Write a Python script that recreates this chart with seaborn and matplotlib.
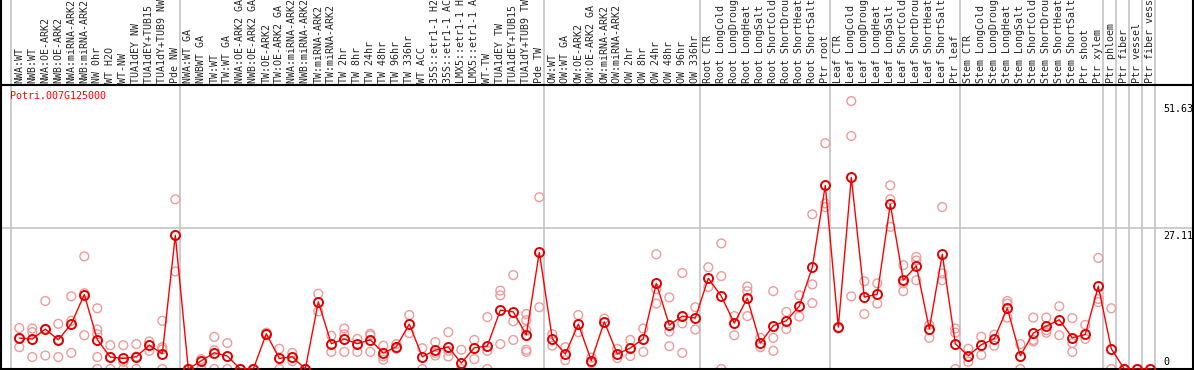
"""Expression profile of Potri.007G125000 across poplar samples."""

import matplotlib

matplotlib.use("Agg")

import matplotlib.pyplot as plt
import matplotlib.transforms as mtransforms
import numpy as np
import pandas as pd
import seaborn as sns

GENE = "Potri.007G125000"

SAMPLES = [
    # NW group
    "NWA:WT", "NWB:WT", "NWA:OE-ARK2", "NWB:OE-ARK2", "NWA:miRNA-ARK2",
    "NWB:miRNA-ARK2", "NW 0hr", "WT H2O", "WT-NW", "TUA1dEY NW",
    "TUA1dEY+TUB15 NW", "TUA1dY+TUB9 NW", "Pde NW",
    # TW group
    "NWA:WT GA", "NWBWT GA", "TW:WT", "TW:WT GA", "NWA:OE-ARK2 GA",
    "NWB:OE-ARK2 GA", "TW:OE-ARK2", "TW:OE-ARK2 GA", "NWA:miRNA-ARK2 GA",
    "NWB:miRNA-ARK2 GA", "TW:miRNA-ARK2", "TW:miRNA-ARK2 GA", "TW 2hr",
    "TW 8hr", "TW 24hr", "TW 48hr", "TW 96hr", "TW 336hr", "WT ACC",
    "35S::etr1-1 H2O", "35S::etr1-1 ACC", "LMX5::etr1-1 H2O",
    "LMX5::etr1-1 ACC", "WT-TW", "TUA1dEY TW", "TUA1dEY+TUB15 TW",
    "TUA1dY+TUB9 TW", "Pde TW",
    # OW group
    "OW:WT", "OW:WT GA", "OW:OE-ARK2", "OW:OE-ARK2 GA", "OW:miRNA-ARK2",
    "OW:miRNA-ARK2 GA", "OW 2hr", "OW 8hr", "OW 24hr", "OW 48hr",
    "OW 96hr", "OW 336hr",
    # Root
    "Root CTR", "Root LongCold", "Root LongDrought", "Root LongHeat",
    "Root LongSalt", "Root ShortCold", "Root ShortDrought", "Root ShortHeat",
    "Root ShortSalt", "Ptr root",
    # Leaf
    "Leaf CTR", "Leaf LongCold", "Leaf LongDrought", "Leaf LongHeat",
    "Leaf LongSalt", "Leaf ShortCold", "Leaf ShortDrought", "Leaf ShortHeat",
    "Leaf ShortSalt", "Ptr leaf",
    # Stem
    "Stem CTR", "Stem LongCold", "Stem LongDrought", "Stem LongHeat",
    "Stem LongSalt", "Stem ShortCold", "Stem ShortDrought", "Stem ShortHeat",
    "Stem ShortSalt", "Ptr shoot", "Ptr xylem",
    # wood tissues
    "Ptr phloem", "Ptr fiber", "Ptr vessel", "Ptr fiber vessel",
]

GROUP_SIZES = [13, 28, 12, 10, 10, 11, 1, 1, 1, 1]

MEANS = [
    5.96, 5.77, 7.69, 5.63, 8.70, 14.35, 5.63, 2.30, 2.04, 2.36,
    4.60, 2.94, 25.77, 0.00, 1.60, 3.13, 2.50, 0.00, 0.00, 6.79,
    2.04, 2.36, 0.00, 12.94, 4.87, 5.77, 4.87, 5.63, 3.07, 4.29,
    8.65, 2.36, 3.65, 4.23, 1.15, 4.10, 4.42, 11.34, 11.02, 6.54,
    22.50, 5.83, 2.88, 8.65, 1.60, 9.10, 2.88, 4.04, 5.83, 16.50,
    8.46, 10.19, 9.80, 17.50, 14.03, 8.84, 13.65, 5.00, 8.33, 9.29,
    12.11, 19.61, 35.38, 8.08, 36.92, 13.84, 14.42, 31.78, 17.11, 19.86,
    7.75, 22.11, 4.87, 2.56, 4.67, 5.83, 11.73, 2.56, 6.92, 8.27,
    9.48, 6.02, 6.65, 15.96, 3.90, 0.00, 0.00, 0.00,
]

REPLICATES = [
    [7.9, 4.2, 6.0], [7.8, 7.1, 2.3], [13.1, 2.6, 7.7], [8.7, 2.3, 5.6],
    [14.0, 9.3, 3.1], [21.7, 14.6, 6.5], [11.7, 7.6, 6.7, 2.3, 0.0],
    [4.6, 0.0, 2.3], [4.6, 1.4, 0.0], [4.8, 0.0, 2.4], [5.3, 3.5, 4.6],
    [9.3, 4.2, 3.8, 0.0], [32.7, 18.8, 25.8], [0.0, 0.0, 0.0], [1.9, 0.0],
    [6.2, 3.6, 0.0], [5.0, 0.0], [0.0, 0.0], [0.0, 0.0], [7.0, 6.8],
    [3.9, 0.0], [3.1, 1.5], [0.0, 0.0], [14.5, 11.1], [6.4, 3.3],
    [7.8, 6.7, 3.3], [5.8, 3.3], [6.8, 6.5, 3.3], [4.5, 2.4, 1.8],
    [4.8, 3.9], [10.4, 6.9], [4.0, 0.0], [5.2, 3.1, 2.6], [7.1, 3.5, 2.4],
    [3.7, 0.0], [5.6, 1.9], [10.0, 3.5, 0.0], [15.1, 14.2, 4.8],
    [18.1, 9.2, 5.6], [10.6, 9.4, 7.5, 3.7, 3.3], [33.1, 11.9], [6.7, 4.5],
    [4.2, 1.7], [10.4, 7.1], [2.2, 1.2], [9.7], [3.9, 2.1], [5.6, 2.5],
    [7.8, 3.3], [22.1, 15.4, 12.6], [13.8, 7.2, 4.4], [18.5, 8.8, 3.1],
    [11.9, 7.6], [19.6, 15.8], [24.2, 17.9, 0.0], [10.2, 6.5],
    [15.9, 15.0, 10.2], [6.0, 4.2], [15.0, 6.0, 3.5], [11.0, 7.7],
    [14.2, 10.1], [29.8, 16.3, 12.7], [43.5, 31.9, 31.2], [8.0, 7.8],
    [51.63, 44.9, 14.0], [16.9, 10.6], [16.5, 12.6], [35.4, 32.7, 27.4],
    [20.0, 16.5, 15.0], [21.6, 20.9, 17.1], [8.5, 6.0], [31.2, 18.4, 17.1],
    [7.8, 7.0, 0.0], [3.9, 1.4], [6.2, 2.7], [6.6, 4.5], [13.1, 12.6, 9.9],
    [4.8, 0.0], [9.9, 5.6, 5.3], [9.9, 7.5, 7.0], [12.1, 6.5],
    [9.8, 5.0, 3.3], [8.5, 5.8], [21.4, 13.5, 12.9], [11.7, 0.0],
    [0.0, 0.0], [0.0, 0.0], [0.0, 0.0],
]

TICK_VALUES = [0, 27.11, 51.63]
GRID_VALUE = 27.11

RED = "#ff0000"
PINK = "#f09a9a"
GRID = "#c4c4c4"
FONT = "DejaVu Sans Mono"
FS = 7.2

W, H = 1194, 370
HEADER_PX = 85  # header band height (px)
BOTTOM_PX = 369


def main() -> None:
    sns.set_style("white")
    plt.rcParams["font.family"] = [FONT, "DejaVu Sans"]

    n = len(SAMPLES)
    pos = np.arange(n)
    rep_df = pd.DataFrame(
        [(i, v) for i, reps in enumerate(REPLICATES) for v in reps],
        columns=["pos", "value"],
    )

    fig = plt.figure(figsize=(W / 100, H / 100), dpi=100)
    left = 1 / W
    width = 1192 / W
    ax_h = fig.add_axes([left, (H - HEADER_PX) / H, width, HEADER_PX / H])
    ax = fig.add_axes(
        [left, (H - BOTTOM_PX) / H, width, (BOTTOM_PX - HEADER_PX) / H]
    )

    # x mapping: sample i sits at 19.3 + 13 * i px
    xlim = ((1 - 19.3) / 13, (1193 - 19.3) / 13)
    px_per_unit = (BOTTOM_PX - 228.3) / GRID_VALUE
    ymax = (BOTTOM_PX - HEADER_PX) / px_per_unit

    for a in (ax, ax_h):
        a.set_xlim(*xlim)
        a.set_xticks([])
        a.set_yticks([])
        for side in ("left", "right", "bottom", "top"):
            a.spines[side].set_color("black")
            a.spines[side].set_linewidth(1.5)
    ax_h.spines["top"].set_visible(False)
    ax_h.set_ylim(0, HEADER_PX)
    ax.set_ylim(0, ymax)

    # group separators run through header and plot
    bounds = np.concatenate([[0], np.cumsum(GROUP_SIZES)])
    for b in bounds:
        for a in (ax, ax_h):
            a.axvline(b - 0.62, color=GRID, linewidth=1.2, zorder=0)
    ax.axhline(GRID_VALUE, color=GRID, linewidth=1.2, zorder=0)

    # replicate points, then the mean profile
    sns.scatterplot(
        data=rep_df,
        x="pos",
        y="value",
        ax=ax,
        marker="o",
        s=40,
        facecolor="none",
        edgecolor=PINK,
        linewidth=1.0,
        zorder=2,
        clip_on=True,
    )
    sns.lineplot(
        x=pos,
        y=MEANS,
        ax=ax,
        color=RED,
        linewidth=1.0,
        marker="o",
        markersize=6.5,
        markerfacecolor="none",
        markeredgecolor="#e00000",
        markeredgewidth=1.4,
        zorder=3,
    )
    ax.set_xlabel("")
    ax.set_ylabel("")

    # sample labels in header
    for i, name in enumerate(SAMPLES):
        ax_h.text(
            i, 2, name, rotation=90, ha="center", va="bottom",
            fontsize=FS, family=FONT, clip_on=True,
        )

    # value labels on the right
    trans = mtransforms.blended_transform_factory(ax.transAxes, ax.transData)
    xlab = (1163 - 1) / 1192
    for v in TICK_VALUES:
        va = "bottom" if v == 0 else "top"
        off = 0.3 if v == 0 else -0.6
        ax.text(xlab, v + off, f"{v:g}", transform=trans, ha="left", va=va,
                fontsize=FS, family=FONT, color="black")

    ax.text(9 / 1192, 1 - 6 / (BOTTOM_PX - HEADER_PX), GENE,
            transform=ax.transAxes, ha="left", va="top", color=RED,
            fontsize=FS, family=FONT)

    fig.savefig("out.png", dpi=100)
    plt.close(fig)


if __name__ == "__main__":
    main()
